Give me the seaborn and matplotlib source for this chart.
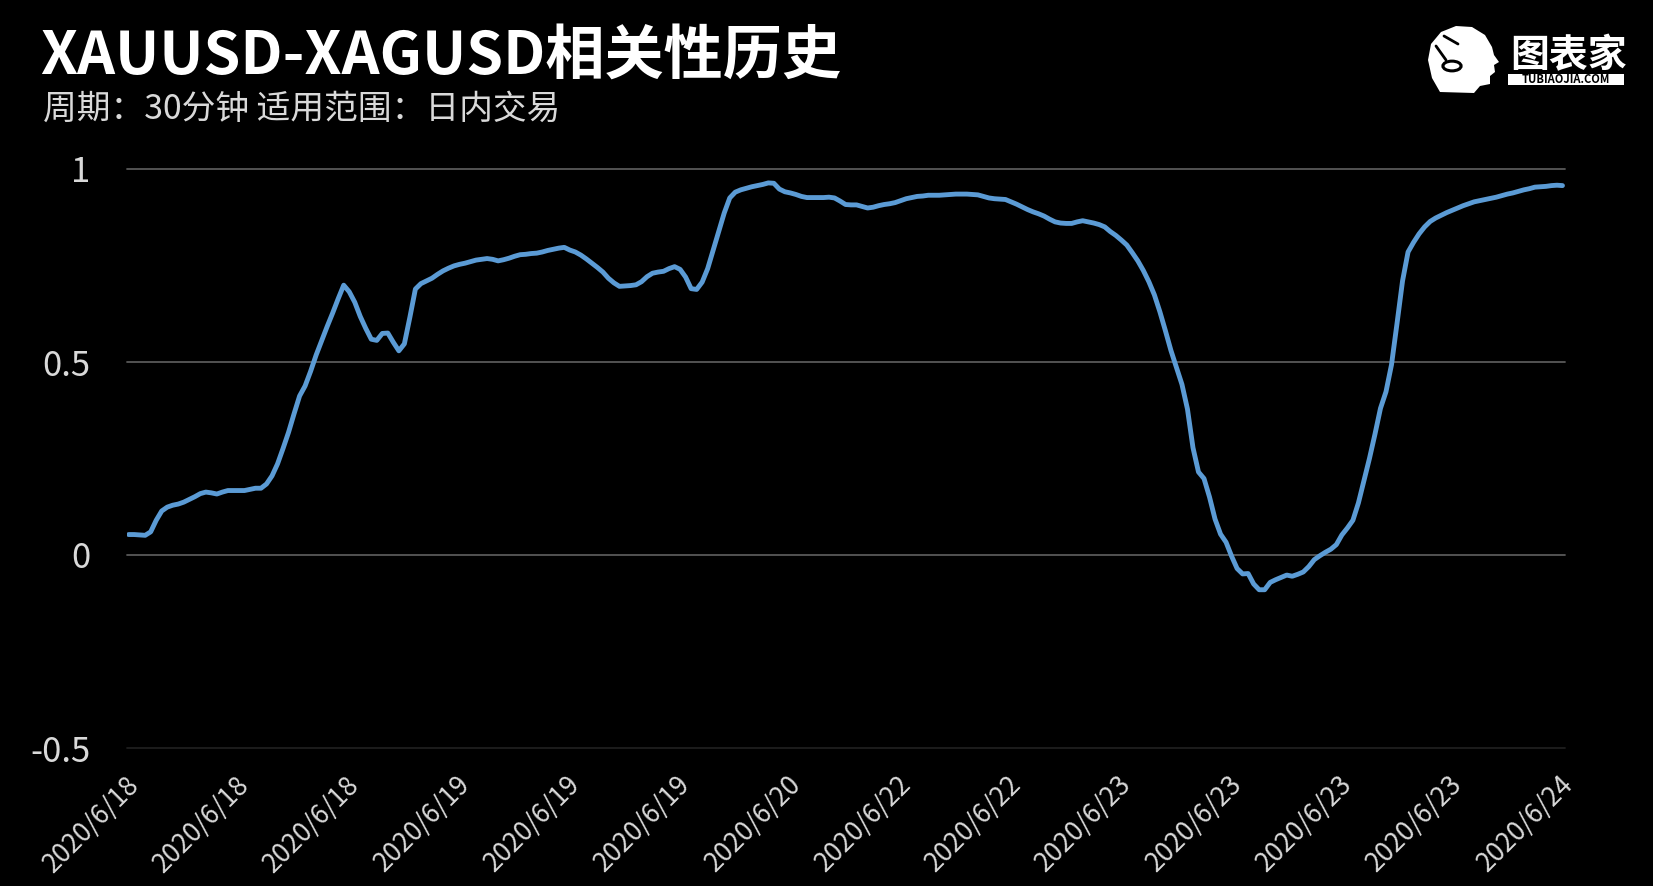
import numpy as np
import pandas as pd
import matplotlib
matplotlib.use("Agg")
import matplotlib.pyplot as plt
import matplotlib.transforms as mtransforms
import seaborn as sns
from matplotlib.patches import Circle, Polygon, Rectangle

# 1. Data (20 samples per date label)
corr_values = [
    0.053, 0.053, 0.052, 0.051, 0.060, 0.090, 0.114, 0.124, 0.129, 0.132,
    0.137, 0.144, 0.151, 0.159, 0.163, 0.161, 0.158, 0.163, 0.167, 0.167,
    0.167, 0.167, 0.170, 0.173, 0.173, 0.184, 0.205, 0.236, 0.276, 0.318,
    0.366, 0.412, 0.438, 0.476, 0.518, 0.555, 0.592, 0.627, 0.664, 0.699,
    0.682, 0.655, 0.618, 0.587, 0.559, 0.556, 0.574, 0.575, 0.551, 0.529,
    0.547, 0.616, 0.689, 0.703, 0.710, 0.717, 0.727, 0.736, 0.743, 0.749,
    0.753, 0.756, 0.760, 0.764, 0.766, 0.768, 0.766, 0.762, 0.765, 0.769,
    0.774, 0.778, 0.779, 0.781, 0.782, 0.785, 0.789, 0.792, 0.795, 0.797,
    0.790, 0.785, 0.777, 0.767, 0.756, 0.745, 0.733, 0.717, 0.705, 0.696,
    0.697, 0.698, 0.700, 0.708, 0.721, 0.730, 0.733, 0.735, 0.742, 0.747,
    0.740, 0.720, 0.690, 0.688, 0.707, 0.742, 0.790, 0.837, 0.886, 0.925,
    0.940, 0.946, 0.950, 0.954, 0.957, 0.960, 0.964, 0.963, 0.948, 0.941,
    0.938, 0.934, 0.929, 0.926, 0.926, 0.926, 0.926, 0.927, 0.925, 0.917,
    0.908, 0.907, 0.907, 0.903, 0.899, 0.901, 0.905, 0.908, 0.910, 0.913,
    0.918, 0.923, 0.926, 0.929, 0.930, 0.932, 0.932, 0.932, 0.933, 0.934,
    0.935, 0.935, 0.935, 0.934, 0.933, 0.929, 0.925, 0.923, 0.922, 0.921,
    0.915, 0.909, 0.902, 0.895, 0.889, 0.884, 0.878, 0.870, 0.863, 0.860,
    0.859, 0.859, 0.863, 0.866, 0.863, 0.860, 0.856, 0.850, 0.838, 0.828,
    0.816, 0.803, 0.783, 0.762, 0.737, 0.708, 0.674, 0.630, 0.581, 0.530,
    0.486, 0.442, 0.378, 0.278, 0.215, 0.198, 0.150, 0.093, 0.054, 0.033,
    -0.003, -0.035, -0.049, -0.048, -0.075, -0.090, -0.090, -0.071, -0.064, -0.058,
    -0.052, -0.055, -0.050, -0.044, -0.030, -0.012, -0.002, 0.007, 0.015, 0.027,
    0.052, 0.070, 0.090, 0.135, 0.193, 0.250, 0.313, 0.380, 0.423, 0.493,
    0.600, 0.710, 0.785, 0.810, 0.832, 0.850, 0.864, 0.873, 0.880, 0.887,
    0.893, 0.899, 0.905, 0.910, 0.915, 0.918, 0.921, 0.924, 0.927, 0.931,
    0.935, 0.938, 0.942, 0.946, 0.949, 0.953, 0.954, 0.955, 0.957, 0.958,
    0.957,
]
date_labels = [
    "2020/6/18", "2020/6/18", "2020/6/18", "2020/6/19", "2020/6/19",
    "2020/6/19", "2020/6/20", "2020/6/22", "2020/6/22", "2020/6/23",
    "2020/6/23", "2020/6/23", "2020/6/23", "2020/6/24",
]
label_step = 20
y_ticks = [-0.5, 0, 0.5, 1]
y_tick_labels = ["-0.5", "0", "0.5", "1"]

title = "XAUUSD-XAGUSD相关性历史"
subtitle = "周期：30分钟 适用范围：日内交易"

df = pd.DataFrame({"idx": np.arange(len(corr_values)), "corr": corr_values})

# 2. Style
sns.set_style("dark")
plt.rcParams["font.family"] = ["Noto Sans CJK SC", "DejaVu Sans"]

W, H = 1653, 886
fig = plt.figure(figsize=(W / 100, H / 100), dpi=100, facecolor="black")
ax = fig.add_axes([126.7 / W, 1 - 748 / H, (1565.5 - 126.7) / W, (748 - 169) / H])
ax.set_facecolor("black")

sns.lineplot(data=df, x="idx", y="corr", ax=ax, color="#5b9bd5", linewidth=3.5)
for ln in ax.get_lines():
    ln.set_solid_joinstyle("round")
    ln.set_solid_capstyle("round")

ax.set_xlim(-0.35, len(corr_values) - 0.45)
ax.set_ylim(-0.5, 1.0)
ax.set_xlabel("")
ax.set_ylabel("")

ax.set_yticks(y_ticks)
ax.set_yticklabels(y_tick_labels, fontsize=25, color="#d9d9d9")
ax.set_xticks(np.arange(0, len(corr_values), label_step))
ax.set_xticklabels(date_labels, fontsize=19, color="#d9d9d9", rotation=45,
                   ha="right", va="center", rotation_mode="anchor")
ax.tick_params(axis="y", length=0, pad=26)
ax.tick_params(axis="x", length=0, pad=18)

# nudge the date labels a little right and down
shift = mtransforms.ScaledTranslation(0.065, -0.075, fig.dpi_scale_trans)
for lab in ax.get_xticklabels():
    lab.set_transform(lab.get_transform() + shift)

ax.grid(axis="y", color="#595959", linewidth=1.3)
ax.grid(axis="x", visible=False)
for gl in ax.get_ygridlines():
    gl.set_clip_on(False)
ax.get_ygridlines()[0].set_color("#1e1e1e")
for s in ax.spines.values():
    s.set_visible(False)

# 3. Title block
fig.text(40 / W, 1 - 27 / H, title, fontsize=42.6, fontweight="bold",
         color="white", va="top", ha="left")
fig.text(43 / W, 1 - 92 / H, subtitle, fontsize=24.3, color="#d9d9d9",
         va="top", ha="left")


# 4. Logo (rough)
def fp(x, y):
    return (x / W, 1 - y / H)


head = [fp(1440, 92), fp(1432, 78), fp(1428, 60), fp(1431, 44), fp(1441, 32),
        fp(1456, 26), fp(1472, 27), fp(1485, 35), fp(1492, 47), fp(1494, 55),
        fp(1499, 62), fp(1494, 65), fp(1495, 72), fp(1490, 76), fp(1490, 84),
        fp(1480, 86), fp(1474, 93)]
fig.patches.append(Polygon(head, closed=True, transform=fig.transFigure,
                           facecolor="white", edgecolor="none"))
fig.patches.append(Circle(fp(1452, 66), 0.0055, transform=fig.transFigure,
                          fill=False, edgecolor="black", linewidth=2.2))
fig.lines.append(plt.Line2D([1436 / W, 1446 / W], [1 - 46 / H, 1 - 60 / H],
                            transform=fig.transFigure, color="black", lw=2))
fig.lines.append(plt.Line2D([1444 / W, 1458 / W], [1 - 36 / H, 1 - 44 / H],
                            transform=fig.transFigure, color="black", lw=2))
fig.text(1510 / W, 1 - 56 / H, "图表家", fontsize=28, fontweight="bold",
         color="white", va="center", ha="left")
fig.patches.append(Rectangle(fp(1507.5, 84.5), 116 / W, 10.5 / H,
                             transform=fig.transFigure, facecolor="white",
                             edgecolor="none"))
fig.text(1565.5 / W, 1 - 79.3 / H, "TUBIAOJIA.COM", fontsize=8, fontweight="bold",
         color="black", va="center", ha="center")

fig.savefig("out.png", dpi=100, facecolor="black")
